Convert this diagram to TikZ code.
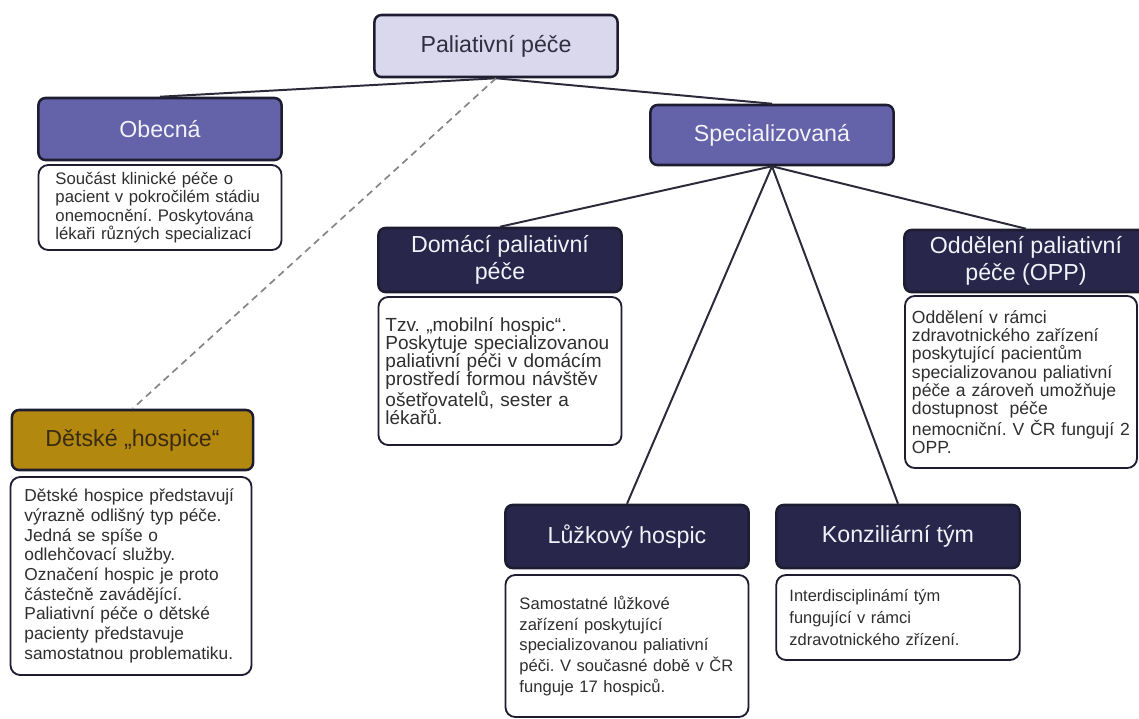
\documentclass[tikz,border=0pt]{standalone}
\usepackage{fontspec}
\setmainfont{Liberation Sans}
\frenchspacing
\hyphenpenalty=10000
\definecolor{rootfill}{HTML}{D9D8EC}
\definecolor{midfill}{HTML}{6462A8}
\definecolor{darkfill}{HTML}{28264A}
\definecolor{goldfill}{HTML}{B2880E}
\definecolor{edge}{HTML}{1E1C30}
\definecolor{conn}{HTML}{2B2A3A}
\definecolor{dashgray}{HTML}{858585}
\definecolor{desctext}{HTML}{2E2E2E}
\definecolor{lighttext}{HTML}{F2F2FA}
\definecolor{goldtext}{HTML}{3A2A14}
\definecolor{roottext}{HTML}{2F2F3F}
\begin{document}
\begin{tikzpicture}[x=0.025cm,y=-0.025cm,
	head/.style={draw=edge,line width=1.8pt,rounded corners=5pt,minimum width=6.075cm,minimum height=1.55cm,align=center,inner sep=2pt,font=\fontsize{16.5}{19}\selectfont},
	desc/.style={draw=edge,line width=1.3pt,fill=white,rounded corners=7pt,align=left,inner xsep=0.375cm,text width=5.325cm,text=desctext},
	conn/.style={draw=conn,line width=1.4pt},
	dashline/.style={draw=dashgray,line width=1.2pt,dash pattern=on 5pt off 3.5pt}]
	\useasboundingbox (0,0) rectangle (1139,718);
	\node[head,fill=rootfill,text=roottext] (root) at (496,46) {Paliativní péče};
	\node[head,fill=midfill,text=lighttext] (obecna) at (160,129) {Obecná};
	\node[head,fill=midfill,text=lighttext,minimum height=1.5cm] (spec) at (772,135) {Specializovaná};
	\node[head,fill=darkfill,text=lighttext,minimum height=1.6cm] (domaci) at (500,260) {Domácí paliativní\\péče};
	\node[head,fill=darkfill,text=lighttext] (opp) at (1026,261) {Oddělení paliativní\\péče (OPP)};
	\node[head,fill=goldfill,text=goldtext,minimum width=6.025cm,minimum height=1.5cm] (detske) at (132.5,440) {Dětské „hospice“};
	\node[head,fill=darkfill,text=lighttext,minimum height=1.575cm] (luzkovy) at (627,536.5) {Lůžkový hospic};
	\node[head,fill=darkfill,text=lighttext,minimum height=1.575cm] (konz) at (898,536.5) {Konziliární tým};
	\node[desc,minimum height=2.125cm,inner xsep=0.425cm,text width=5.225cm,font=\fontsize{11.9}{13}\selectfont] (obecnadesc) at (160,207.5) {Součást klinické péče o\\pacient v pokročilém stádiu\\onemocnění. Poskytována\\lékaři různých specializací};
	\node[desc,minimum height=3.7cm,inner xsep=0.175cm,text width=5.725cm,font=\fontsize{13.5}{13}\selectfont] (domacidesc) at (500,371) {Tzv. „mobilní hospic“.\\Poskytuje specializovanou\\paliativní péči v domácím\\prostředí formou návštěv\\ošetřovatelů, sester a\\lékařů.};
	\node[desc,minimum width=5.8cm,minimum height=4.3cm,inner xsep=0.175cm,text width=5.45cm,font=\fontsize{12.5}{13}\selectfont] (oppdesc) at (1021,382) {Oddělení v rámci\\zdravotnického zařízení\\poskytující pacientům\\specializovanou paliativní\\péče a zároveň umožňuje\\dostupnost \ péče\\nemocniční. V ČR fungují 2\\OPP.};
	\node[desc,minimum height=4.95cm,inner xsep=0.35cm,text width=5.325cm,font=\fontsize{12.3}{14}\selectfont] (detskedesc) at (131,576) {Dětské hospice představují\\výrazně odlišný typ péče.\\Jedná se spíše o\\odlehčovací služby.\\Označení hospic je proto\\částečně zavádějící.\\Paliativní péče o dětské\\pacienty představuje\\samostatnou problematiku.};
	\node[desc,minimum height=3.55cm,inner xsep=0.35cm,text width=5.375cm,font=\fontsize{11.8}{14.8}\selectfont] (luzkovydesc) at (627,646) {Samostatné lůžkové\\zařízení poskytující\\specializovanou paliativní\\péči. V současné době v ČR\\funguje 17 hospiců.};
	\node[desc,minimum height=2.125cm,inner xsep=0.33cm,text width=5.425cm,font=\fontsize{11.7}{15.4}\selectfont] (konzdesc) at (898,617.5) {Interdisciplinámí tým\\fungující v rámci\\zdravotnického zřízení.};
	\draw[conn] (root.south) -- (obecna.north);
	\draw[conn] (root.south) -- (spec.north);
	\draw[dashline] (root.south) -- (detske.north);
	\draw[conn] (spec.south) -- (domaci.north);
	\draw[conn] (spec.south) -- (luzkovy.north);
	\draw[conn] (spec.south) -- (konz.north);
	\draw[conn] (spec.south) -- (opp.north);
\end{tikzpicture}
\end{document}
